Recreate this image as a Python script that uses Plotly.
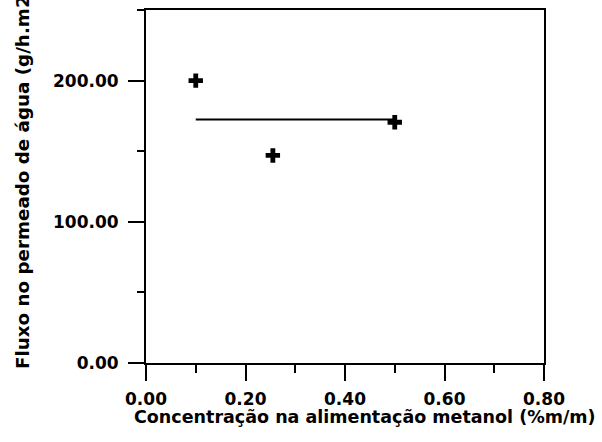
import plotly.graph_objects as go

# Methanol concentration in the feed (% m/m) and water permeate flux (g/h.m2)
concentration = [0.10, 0.255, 0.50]
flux = [200.0, 147.0, 170.5]

# Horizontal mean line spanning the measured concentration range
mean_x = [min(concentration), max(concentration)]
mean_flux = sum(flux) / len(flux)
mean_y = [mean_flux, mean_flux]

x_ticks = [0.0, 0.2, 0.4, 0.6, 0.8]
y_ticks = [0.0, 100.0, 200.0]

FONT = "DejaVu Sans"
W, H = 602, 442
L, R, T, B = 146, 58, 8, 79
PW, PH = W - L - R, H - T - B

fig = go.Figure()

fig.add_trace(go.Scatter(
    x=mean_x, y=mean_y, mode="lines",
    line=dict(color="black", width=2),
    showlegend=False, hoverinfo="skip",
))
fig.add_trace(go.Scatter(
    x=concentration, y=flux, mode="markers",
    marker=dict(symbol="cross", size=12, color="black", line=dict(width=0)),
    showlegend=False,
))

axis_common = dict(
    showgrid=False, zeroline=False,
    showline=True, linecolor="black", linewidth=2, mirror=True,
    ticks="outside", tickwidth=2, tickcolor="black",
    tickformat=".2f",
    tickfont=dict(family=FONT, size=17, color="black", weight="bold"),
)

fig.update_xaxes(
    range=[0, 0.8], tickvals=x_ticks, ticklen=16, ticklabelstandoff=4,
    minor=dict(dtick=0.1, tick0=0, ticks="outside", ticklen=8,
               tickwidth=2, tickcolor="black", showgrid=False),
    **axis_common,
)
fig.update_yaxes(
    range=[0, 250], tickvals=y_ticks, ticklen=16, ticklabelstandoff=6,
    minor=dict(dtick=50, tick0=0, ticks="outside", ticklen=7,
               tickwidth=2, tickcolor="black", showgrid=False),
    **axis_common,
)

def px_to_paper_x(px):
    return (px - L) / PW

def px_to_paper_y(py):
    return (H - B - py) / PH

fig.add_annotation(
    text="Concentração na alimentação metanol (%m/m)",
    xref="paper", yref="paper",
    x=px_to_paper_x(364.5), y=px_to_paper_y(417.5),
    xanchor="center", yanchor="middle", showarrow=False,
    font=dict(family=FONT, size=17.5, color="black", weight="bold"),
)
fig.add_annotation(
    text="Fluxo no permeado de água (g/h.m2)",
    xref="paper", yref="paper",
    x=px_to_paper_x(23), y=px_to_paper_y(371),
    xanchor="center", yanchor="bottom", textangle=-90, showarrow=False,
    font=dict(family=FONT, size=18.3, color="black", weight="bold"),
)

fig.update_layout(
    width=W, height=H,
    margin=dict(l=L, r=R, t=T, b=B),
    paper_bgcolor="white", plot_bgcolor="white",
    showlegend=False,
)

fig.write_html("out.html")
